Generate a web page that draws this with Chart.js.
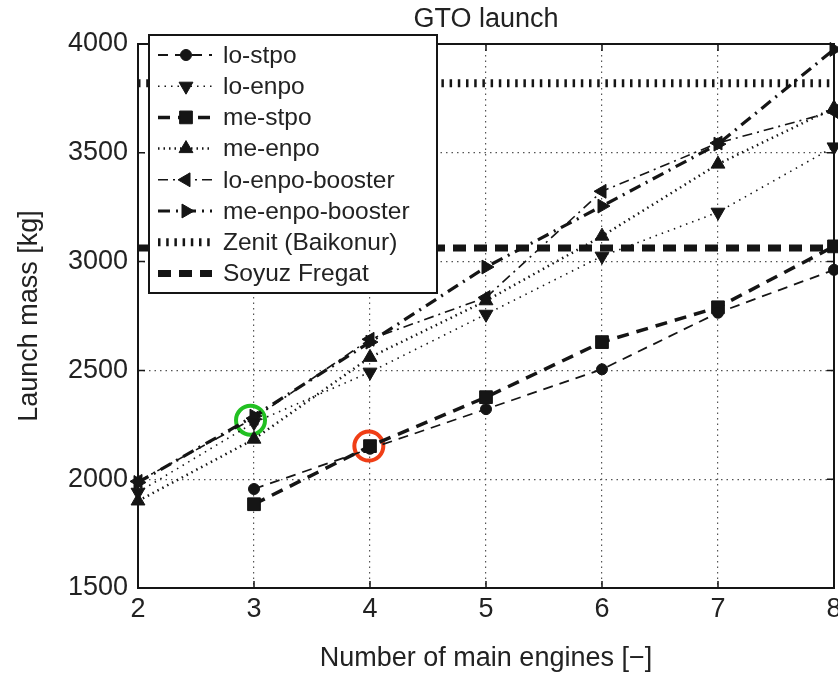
<!DOCTYPE html>
<html><head><meta charset="utf-8">
<script src="https://cdn.jsdelivr.net/npm/chart.js@4"></script>
<style>html,body{margin:0;padding:0;background:#fff}</style>
</head><body>
<canvas id="c" width="838" height="675"></canvas>
<script>
// ---- data ----
const engines = [2, 3, 4, 5, 6, 7, 8];
const loStpo = [null, 1955, 2140, 2322, 2505, 2765, 2962];
const loEnpo = [1940, 2260, 2492, 2758, 3025, 3227, 3527];
const meStpo = [null, 1885, 2152, 2377, 2630, 2790, 3070];
const meEnpo = [1900, 2184, 2560, 2820, 3117, 3448, 3706];
const loEnpoBooster = [1990, 2280, 2643, 2835, 3323, 3545, 3690];
const meEnpoBooster = [1985, 2290, 2630, 2975, 3255, 3540, 3975];
const limitX = [2, 8];
const zenitMass = [3820, 3820];
const soyuzMass = [3062, 3062];
const greenMarkX = [2.97], greenMarkY = [2271];
const redMarkX = [3.99], redMarkY = [2152];
const xTicks = [2, 3, 4, 5, 6, 7, 8];
const yTicks = [1500, 2000, 2500, 3000, 3500, 4000];
const labels = ['lo-stpo', 'lo-enpo', 'me-stpo', 'me-enpo', 'lo-enpo-booster', 'me-enpo-booster', 'Zenit (Baikonur)', 'Soyuz Fregat'];

const FONT = '"Liberation Sans", Arial, Helvetica, sans-serif';
const INK = '#151515';
const pts = (xs, ys) => xs.map((x, i) => ({x: x, y: ys[i]}));

function series(label, ys, width, dash, style, rot, r) {
  return {
    label: label, data: pts(engines, ys), inLegend: true,
    borderColor: INK, borderWidth: width, borderDash: dash, borderCapStyle: 'butt',
    pointStyle: style, pointRotation: rot, pointRadius: r,
    pointBackgroundColor: INK, pointBorderColor: INK, pointBorderWidth: 1,
    fill: false, tension: 0, clip: false
  };
}
function limit(label, ys, width, dash) {
  return {
    label: label, data: pts(limitX, ys), inLegend: true,
    borderColor: INK, borderWidth: width, borderDash: dash, borderCapStyle: 'butt',
    pointRadius: 0, fill: false, tension: 0, clip: false
  };
}
function mark(xs, ys, color) {
  return {
    label: '', data: pts(xs, ys), inLegend: false, showLine: false,
    pointStyle: 'circle', pointRadius: 14.5, pointBorderWidth: 4,
    pointBorderColor: color, pointBackgroundColor: 'rgba(0,0,0,0)', clip: false
  };
}

const datasets = [
  series(labels[0], loStpo, 1.8, [10, 7], 'circle', 0, 5.5),
  series(labels[1], loEnpo, 1.6, [1.5, 5], 'triangle', 180, 8),
  series(labels[2], meStpo, 3.5, [12, 8], 'rect', 0, 9),
  series(labels[3], meEnpo, 2.5, [1.5, 4], 'triangle', 0, 8),
  series(labels[4], loEnpoBooster, 1.6, [10, 5, 2, 5], 'triangle', 270, 8),
  series(labels[5], meEnpoBooster, 3.2, [12, 6, 2, 6], 'triangle', 90, 8),
  limit(labels[6], zenitMass, 8, [2.5, 5.7]),
  limit(labels[7], soyuzMass, 7, [13, 8]),
  mark(greenMarkX, greenMarkY, 'rgb(34,192,34)'),
  mark(redMarkX, redMarkY, 'rgb(240,62,22)')
];

function drawMarker(ctx, style, rot, r, x, y) {
  ctx.save();
  ctx.translate(x, y);
  ctx.rotate(rot * Math.PI / 180);
  ctx.fillStyle = INK; ctx.strokeStyle = INK; ctx.lineWidth = 1;
  ctx.setLineDash([]);
  ctx.beginPath();
  if (style === 'circle') ctx.arc(0, 0, r, 0, Math.PI * 2);
  else if (style === 'rect') { const s = r * Math.SQRT1_2; ctx.rect(-s, -s, 2 * s, 2 * s); }
  else if (style === 'triangle') { ctx.moveTo(0, -r); ctx.lineTo(r * 0.866, r * 0.5); ctx.lineTo(-r * 0.866, r * 0.5); ctx.closePath(); }
  ctx.fill(); ctx.stroke();
  ctx.restore();
}

const framePlugin = {
  id: 'frame',
  afterDatasetsDraw(chart) {
    const {ctx, chartArea: a, scales: {x, y}} = chart;
    ctx.save();
    ctx.setLineDash([]);
    ctx.strokeStyle = INK;
    ctx.lineWidth = 2;
    ctx.strokeRect(a.left, a.top, a.right - a.left, a.bottom - a.top);
    ctx.lineWidth = 1.5;
    ctx.beginPath();
    xTicks.forEach(v => {
      const p = x.getPixelForValue(v);
      ctx.moveTo(p, a.bottom); ctx.lineTo(p, a.bottom - 7);
      ctx.moveTo(p, a.top); ctx.lineTo(p, a.top + 7);
    });
    yTicks.forEach(v => {
      const p = y.getPixelForValue(v);
      ctx.moveTo(a.left, p); ctx.lineTo(a.left + 7, p);
      ctx.moveTo(a.right, p); ctx.lineTo(a.right - 7, p);
    });
    ctx.stroke();
    ctx.restore();
  }
};

const legendPlugin = {
  id: 'boxLegend',
  afterDraw(chart) {
    const ctx = chart.ctx;
    const bx = 149, by = 35, bw = 288, bh = 258;
    ctx.save();
    ctx.fillStyle = '#fff';
    ctx.fillRect(bx, by, bw, bh);
    ctx.setLineDash([]);
    ctx.lineWidth = 2;
    ctx.strokeStyle = INK;
    ctx.strokeRect(bx, by, bw, bh);
    const items = chart.data.datasets.filter(d => d.inLegend);
    items.forEach((d, i) => {
      const cy = 55 + i * 31.2;
      ctx.save();
      ctx.strokeStyle = d.borderColor;
      ctx.lineWidth = d.borderWidth;
      ctx.setLineDash(d.borderDash || []);
      ctx.lineCap = 'butt';
      ctx.beginPath(); ctx.moveTo(158, cy); ctx.lineTo(212, cy); ctx.stroke();
      ctx.restore();
      if (d.pointRadius > 0) drawMarker(ctx, d.pointStyle, d.pointRotation || 0, d.pointRadius, 186, cy);
      ctx.fillStyle = '#222';
      ctx.font = '24.5px ' + FONT;
      ctx.textBaseline = 'middle';
      ctx.textAlign = 'left';
      ctx.fillText(d.label, 223, cy + 1);
    });
    ctx.restore();
  }
};

new Chart(document.getElementById('c'), {
  type: 'line',
  data: {datasets: datasets},
  options: {
    responsive: false, animation: false, devicePixelRatio: 1,
    layout: {autoPadding: false, padding: {left: 0, right: 4, top: 0, bottom: 0}},
    plugins: {
      legend: {display: false},
      tooltip: {enabled: false},
      title: {
        display: true, text: 'GTO launch', color: '#222',
        font: {family: FONT, size: 27, weight: 'normal'},
        padding: {top: 3, bottom: 8.6}, fullSize: false
      }
    },
    scales: {
      x: {
        type: 'linear', min: 2, max: 8,
        afterBuildTicks(s) { s.ticks = xTicks.map(v => ({value: v})); },
        afterFit(s) { s.height = 87; s.paddingLeft = 0; s.paddingRight = 0; },
        ticks: {color: '#222', font: {family: FONT, size: 27}, padding: 5, callback: v => String(v)},
        grid: {color: '#555', lineWidth: 1.2, drawTicks: false},
        border: {display: false, dash: [1.5, 4]},
        title: {display: true, text: 'Number of main engines [−]', color: '#222',
          font: {family: FONT, size: 27}, padding: {top: 0, bottom: 0}}
      },
      y: {
        type: 'linear', min: 1500, max: 4000,
        afterBuildTicks(s) { s.ticks = yTicks.map(v => ({value: v})); },
        afterFit(s) { s.width = 138; s.paddingTop = 0; s.paddingBottom = 0; },
        ticks: {color: '#222', font: {family: FONT, size: 27}, padding: 10, callback: v => String(v)},
        grid: {color: '#555', lineWidth: 1.2, drawTicks: false},
        border: {display: false, dash: [1.5, 4]},
        title: {display: true, text: 'Launch mass [kg]', color: '#222',
          font: {family: FONT, size: 27}, padding: {top: 13, bottom: 0}}
      }
    }
  },
  plugins: [framePlugin, legendPlugin]
});
</script>
</body></html>
